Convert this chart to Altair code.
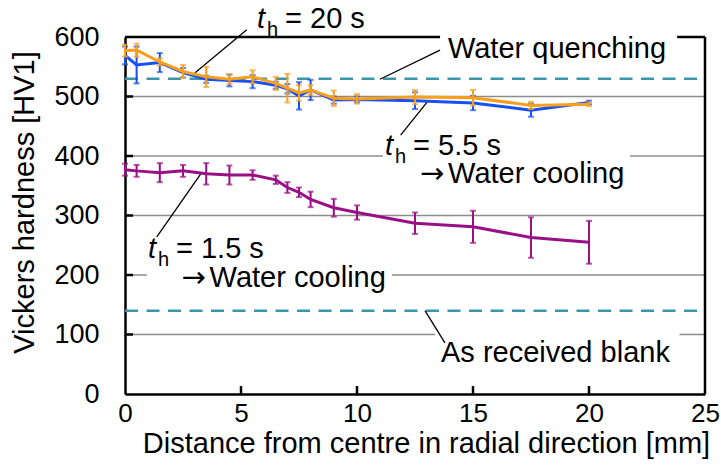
import altair as alt
import pandas as pd

FONT = "Liberation Sans"

# ---------------- data ----------------
x_mm = [0, 0.5, 1.5, 2.5, 3.5, 4.5, 5.5, 6.5, 7, 7.5, 8, 9, 10, 12.5, 15, 17.5, 20]
hv_20s = [577, 578, 558, 542, 533, 529, 533, 522, 514, 506, 511, 497, 496, 499, 498, 485, 487]
err_20s = [10, 11, 6, 11, 17, 8, 11, 11, 24, 13, 8, 13, 8, 12, 13, 6, 3]
hv_55s = [569, 553, 557, 540, 529, 527, 525, 519, 513, 501, 511, 494, 495, 493, 489, 477, 490]
err_55s = [15, 31, 16, 8, 6, 10, 11, 6, 8, 23, 17, 6, 5, 14, 12, 11, 3]
hv_15s = [377, 375, 372, 375, 370, 368, 368, 360, 347, 339, 327, 313, 305, 287, 281, 263, 255]
err_15s = [10, 10, 16, 10, 18, 16, 8, 7, 9, 8, 13, 15, 12, 18, 27, 34, 36]

series_names = ["1.5 s", "5.5 s", "20 s"]
series_colors = ["#9a0f86", "#1650f5", "#fa9f1c"]

x_ticks = [0, 5, 10, 15, 20, 25]
y_ticks = [0, 100, 200, 300, 400, 500, 600]
grid_y = [100, 200, 300, 400, 500]
inner_xticks = [5, 10, 15, 20]
ref_y = [530, 140]

# annotation labels (data coordinates)
lab_text = ["Water quenching", "As received blank"]
lab_x = [13.92, 13.62]
lab_y = [564, 54]

cool_text = ["Water cooling", "Water cooling"]
cool_x = [12.72, 2.44]
cool_y = [354, 180]

th_x = [5.69, 11.21, 0.99]
th_y = [615, 402, 228]
th_rest = ["= 20 s", "= 5.5 s", "= 1.5 s"]

lead_x1 = [5.25, 13.58, 11.88, 1.37, 13.79]
lead_y1 = [612, 578, 435, 264, 86]
lead_x2 = [3.02, 10.99, 13.03, 3.28, 12.93]
lead_y2 = [540, 529, 491, 371, 140]

mask_x1 = [13.58, 11.12, 0.95, 13.36]
mask_x2 = [23.8, 21.77, 11.5, 23.9]
mask_y1 = [560, 385, 185, 45]
mask_y2 = [612, 420, 215, 120]

# ---------------- scales / axes ----------------
xs = alt.Scale(domain=[0, 25], nice=False, zero=False)
ys = alt.Scale(domain=[0, 600], nice=False, zero=False)

xaxis = alt.Axis(values=x_ticks, title="Distance from centre in radial direction [mm]",
                 grid=False, ticks=False, tickSize=0, domainColor="black", domainWidth=2.5,
                 labelFont=FONT, labelFontSize=26, labelColor="black", labelPadding=6,
                 labelFlush=False, labelOverlap=False, format="d",
                 titleFont=FONT, titleFontSize=29, titleFontWeight="normal", titleColor="black",
                 titleX=301, titleY=58, titleAlign="center", titleBaseline="alphabetic")
yaxis = alt.Axis(values=y_ticks, title="Vickers hardness [HV1]",
                 grid=False, ticks=False, tickSize=0, domainColor="black", domainWidth=2.5,
                 labelFont=FONT, labelFontSize=27, labelColor="black", labelPadding=26,
                 labelFlush=False, labelOverlap=False, format="d",
                 titleFont=FONT, titleFontSize=29, titleFontWeight="normal", titleColor="black",
                 titleAngle=270, titleX=-92, titleY=165, titleAlign="center",
                 titleBaseline="alphabetic")


def X(field=None, datum=None):
    if datum is not None:
        return alt.X(datum=datum, type="quantitative", scale=xs, axis=xaxis)
    return alt.X(field, type="quantitative", scale=xs, axis=xaxis)


def Y(field=None, datum=None):
    if datum is not None:
        return alt.Y(datum=datum, type="quantitative", scale=ys, axis=yaxis)
    return alt.Y(field, type="quantitative", scale=ys, axis=yaxis)


dummy = pd.DataFrame({"d": [0]})
layers = []

# gridlines
layers.append(alt.Chart(pd.DataFrame({"v": grid_y})).mark_rule(color="#8c8c8c", strokeWidth=1.5)
              .encode(y=Y("v"), x=X(datum=0), x2=alt.X2(datum=25)))
# frame (top and right)
layers.append(alt.Chart(dummy).mark_rule(color="black", strokeWidth=2.5)
              .encode(y=Y(datum=600), x=X(datum=0), x2=alt.X2(datum=25)))
layers.append(alt.Chart(dummy).mark_rule(color="black", strokeWidth=2.5)
              .encode(x=X(datum=25), y=Y(datum=0), y2=alt.Y2(datum=600)))
# white boxes behind labels
mask_df = pd.DataFrame({"x1": mask_x1, "x2": mask_x2, "y1": mask_y1, "y2": mask_y2})
layers.append(alt.Chart(mask_df).mark_rect(color="white")
              .encode(x=X("x1"), x2="x2", y=Y("y1"), y2="y2"))
# inward ticks
layers.append(alt.Chart(pd.DataFrame({"v": grid_y})).mark_rule(color="black", strokeWidth=2.5)
              .encode(y=Y("v"), x=alt.value(0), x2=alt.value(8)))
layers.append(alt.Chart(pd.DataFrame({"v": inner_xticks})).mark_rule(color="black", strokeWidth=2.5)
              .encode(x=X("v"), y=alt.value(357), y2=alt.value(349)))
# dashed reference lines
layers.append(alt.Chart(pd.DataFrame({"v": ref_y})).mark_rule(color="#3b96ab", strokeWidth=2.5,
                                                               strokeDash=[13, 8.5])
              .encode(y=Y("v"), x=X(datum=0), x2=alt.X2(datum=25)))
# leader lines
lead_df = pd.DataFrame({"x1": lead_x1, "y1": lead_y1, "x2": lead_x2, "y2": lead_y2})
layers.append(alt.Chart(lead_df).mark_rule(color="black", strokeWidth=1.3)
              .encode(x=X("x1"), y=Y("y1"), x2="x2", y2="y2"))

# data series
for name, vals, errs, col in zip(series_names, [hv_15s, hv_55s, hv_20s],
                                 [err_15s, err_55s, err_20s], series_colors):
    df = pd.DataFrame({"x": x_mm, "y": vals,
                       "lo": [v - e for v, e in zip(vals, errs)],
                       "hi": [v + e for v, e in zip(vals, errs)]})
    base = alt.Chart(df)
    layers.append(base.mark_rule(color=col, strokeWidth=2).encode(x=X("x"), y=Y("lo"), y2="hi"))
    layers.append(base.mark_tick(color=col, thickness=2, size=6, orient="horizontal")
                  .encode(x=X("x"), y=Y("lo")))
    layers.append(base.mark_tick(color=col, thickness=2, size=6, orient="horizontal")
                  .encode(x=X("x"), y=Y("hi")))
    layers.append(base.mark_line(color=col, strokeWidth=3).encode(x=X("x"), y=Y("y")))

# text annotations
lab_df = pd.DataFrame({"x": lab_x, "y": lab_y, "t": lab_text})
layers.append(alt.Chart(lab_df).mark_text(font=FONT, fontSize=29, align="left",
                                          baseline="alphabetic", color="black")
              .encode(x=X("x"), y=Y("y"), text="t:N"))
cool_df = pd.DataFrame({"x": cool_x, "y": cool_y, "t": cool_text})
layers.append(alt.Chart(cool_df).mark_text(font="DejaVu Sans", fontSize=29, align="left",
                                           baseline="alphabetic", color="black")
              .encode(x=X("x"), y=Y("y"), text=alt.value("\u2192")))
layers.append(alt.Chart(cool_df).mark_text(font=FONT, fontSize=29, align="left", dx=28,
                                           baseline="alphabetic", color="black")
              .encode(x=X("x"), y=Y("y"), text="t:N"))
th_df = pd.DataFrame({"x": th_x, "y": th_y, "r": th_rest})
layers.append(alt.Chart(th_df).mark_text(font=FONT, fontSize=29, fontStyle="italic", align="left",
                                         baseline="alphabetic", color="black")
              .encode(x=X("x"), y=Y("y"), text=alt.value("t")))
layers.append(alt.Chart(th_df).mark_text(font=FONT, fontSize=20, align="left", dx=10, dy=8,
                                         baseline="alphabetic", color="black")
              .encode(x=X("x"), y=Y("y"), text=alt.value("h")))
layers.append(alt.Chart(th_df).mark_text(font=FONT, fontSize=29, align="left", dx=28,
                                         baseline="alphabetic", color="black")
              .encode(x=X("x"), y=Y("y"), text="r:N"))

chart = (alt.layer(*layers)
         .properties(width=580, height=357,
                     padding={"left": 125, "top": 37, "right": 16, "bottom": 76},
                     autosize=alt.AutoSizeParams(type="none"))
         .configure_view(stroke="transparent"))

chart.save("out.html", embed_options={"renderer": "svg", "actions": False})
